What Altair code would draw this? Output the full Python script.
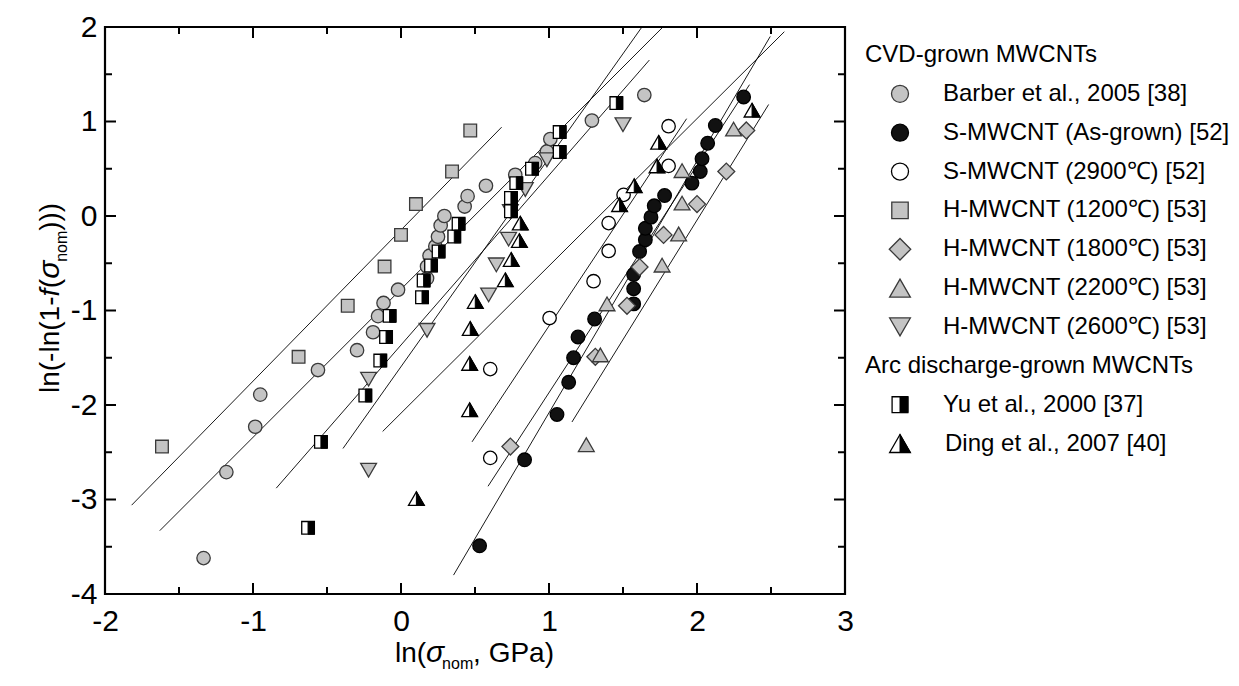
import altair as alt
import pandas as pd

FONT = "Liberation Sans, Arial, Helvetica, sans-serif"

# ------------------------------------------------------------------ data
barber_x = [-1.334, -1.18, -0.985, -0.951, -0.561, -0.297, -0.189, -0.155, -0.118, -0.02,
            0.176, 0.176, 0.193, 0.232, 0.25, 0.268, 0.293, 0.43, 0.45, 0.574,
            0.772, 0.907, 0.986, 1.009, 1.29, 1.644]
barber_y = [-3.62, -2.71, -2.23, -1.89, -1.63, -1.42, -1.23, -1.06, -0.92, -0.78,
            -0.66, -0.535, -0.42, -0.32, -0.22, -0.10, 0.0, 0.10, 0.21, 0.32,
            0.436, 0.56, 0.683, 0.814, 1.01, 1.28]

asgrown_x = [0.531, 0.835, 1.054, 1.133, 1.166, 1.196, 1.308, 1.572, 1.572, 1.572, 1.612,
             1.651, 1.651, 1.689, 1.711, 1.781, 1.966, 2.022, 2.034, 2.072, 2.124, 2.315]
asgrown_y = [-3.49, -2.58, -2.10, -1.76, -1.50, -1.28, -1.09, -0.93, -0.77, -0.62, -0.376,
             -0.252, -0.13, -0.012, 0.108, 0.217, 0.348, 0.471, 0.606, 0.77, 0.958, 1.26]

s2900_x = [0.603, 0.603, 1.004, 1.301, 1.403, 1.403, 1.504, 1.808, 1.808]
s2900_y = [-2.56, -1.62, -1.08, -0.69, -0.37, -0.075, 0.224, 0.53, 0.95]

h1200_x = [-1.615, -0.692, -0.36, -0.111, 0.0, 0.101, 0.345, 0.468]
h1200_y = [-2.44, -1.49, -0.95, -0.535, -0.20, 0.126, 0.471, 0.905]

h1800_x = [0.739, 1.313, 1.527, 1.612, 1.774, 2.0, 2.198, 2.333]
h1800_y = [-2.44, -1.49, -0.95, -0.54, -0.20, 0.126, 0.471, 0.905]

h2200_x = [1.252, 1.347, 1.392, 1.764, 1.876, 1.899, 1.899, 2.247]
h2200_y = [-2.42, -1.47, -0.93, -0.52, -0.19, 0.137, 0.48, 0.92]

h2600_x = [-0.219, -0.219, 0.176, 0.592, 0.644, 0.727, 0.739, 0.84, 0.986, 1.5]
h2600_y = [-2.69, -1.727, -1.21, -0.835, -0.517, -0.245, 0.048, 0.28, 0.595, 0.966]

yu_x = [-0.628, -0.541, -0.241, -0.14, -0.101, -0.077, 0.142, 0.153, 0.203, 0.254,
        0.36, 0.389, 0.743, 0.743, 0.779, 0.885, 1.072, 1.072, 1.455]
yu_y = [-3.30, -2.39, -1.90, -1.53, -1.28, -1.057, -0.86, -0.683, -0.524, -0.376,
        -0.217, -0.083, 0.05, 0.19, 0.348, 0.50, 0.677, 0.888, 1.195]

ding_x = [0.104, 0.464, 0.464, 0.468, 0.502, 0.705, 0.745, 0.80, 0.806, 1.477,
          1.576, 1.73, 1.741, 2.372]
ding_y = [-2.99, -2.05, -1.56, -1.19, -0.905, -0.675, -0.46, -0.26, -0.075, 0.12,
          0.32, 0.53, 0.78, 1.12]

# Weibull fit lines (start / end points)
fit_x1 = [-1.82, -1.63, -0.843, -0.392, -0.124, 0.48, 0.355, 0.588, 1.155]
fit_y1 = [-3.06, -3.33, -2.88, -2.46, -2.28, -2.39, -3.80, -2.86, -2.18]
fit_x2 = [0.68, 1.77, 1.678, 1.628, 2.59, 1.93, 2.495, 2.355, 2.484]
fit_y2 = [0.94, 2.0, 1.65, 2.0, 1.95, 1.03, 1.90, 1.39, 1.18]

x_major = [-2, -1, 0, 1, 2, 3]
x_minor = [-1.5, -0.5, 0.5, 1.5, 2.5]
y_major = [-4, -3, -2, -1, 0, 1, 2]
y_minor = [-3.5, -2.5, -1.5, -0.5, 0.5, 1.5]

legend_labels = [
    "CVD-grown MWCNTs",
    "Barber et al., 2005 [38]",
    "S-MWCNT (As-grown) [52]",
    "S-MWCNT (2900℃) [52]",
    "H-MWCNT (1200℃) [53]",
    "H-MWCNT (1800℃) [53]",
    "H-MWCNT (2200℃) [53]",
    "H-MWCNT (2600℃) [53]",
    "Arc discharge-grown MWCNTs",
    "Yu et al., 2000 [37]",
    "Ding et al., 2007 [40]",
]
legend_keys = [None, "barber", "asgrown", "s2900", "h1200", "h1800", "h2200", "h2600",
               None, "yu", "ding"]

# ------------------------------------------------------------------ layout / style
W, H = 740, 567
PX0, PY0 = 105, 27          # page position of plot origin


def rx(px):
    return px - PX0


def ry(py):
    return py - PY0


GRAY = "#c4c4c4"
EDGE = "#3a3a3a"
SQ_FULL = "M-1,-1L1,-1L1,1L-1,1Z"
SQ_HALF = "M0,-1L1,-1L1,1L0,1Z"
TRI_FULL = "M0,-0.866L1,0.866L-1,0.866Z"
TRI_HALF = "M0,-0.866L1,0.866L0,0.866Z"

STYLE = {
    "barber": ("circle", GRAY, EDGE, 180, 290),
    "asgrown": ("circle", "#111111", "#000000", 185, 290),
    "s2900": ("circle", "#ffffff", "#000000", 180, 290),
    "h1200": ("square", GRAY, EDGE, 160, 270),
    "h1800": ("diamond", GRAY, EDGE, 285, 460),
    "h2200": ("triangle-up", GRAY, EDGE, 250, 430),
    "h2600": ("triangle-down", GRAY, EDGE, 250, 430),
    "yu": ("half-square", None, None, 160, 250),
    "ding": ("half-tri", None, None, 250, 430),
}

SERIES = [
    ("barber", barber_x, barber_y),
    ("asgrown", asgrown_x, asgrown_y),
    ("s2900", s2900_x, s2900_y),
    ("h1200", h1200_x, h1200_y),
    ("h1800", h1800_x, h1800_y),
    ("h2200", h2200_x, h2200_y),
    ("h2600", h2600_x, h2600_y),
    ("yu", yu_x, yu_y),
    ("ding", ding_x, ding_y),
]

xs = alt.Scale(domain=[-2, 3], nice=False, zero=False)
ys = alt.Scale(domain=[-4, 2], nice=False, zero=False)
LABEL_EXPR = "datum.value < 0 ? '-' + abs(datum.value) : '' + datum.value"
xaxis = alt.Axis(values=x_major, title=None, grid=False, ticks=False, tickSize=0, domain=False,
                 labelFont=FONT, labelFontSize=30, labelColor="black", labelPadding=12,
                 labelFlush=False, labelOverlap=False, labelExpr=LABEL_EXPR)
yaxis = alt.Axis(values=y_major, title=None, grid=False, ticks=False, tickSize=0, domain=False,
                 labelFont=FONT, labelFontSize=30, labelColor="black", labelPadding=8,
                 labelFlush=False, labelOverlap=False, labelExpr=LABEL_EXPR)


def X(field):
    return alt.X(field, type="quantitative", scale=xs, axis=xaxis)


def Y(field):
    return alt.Y(field, type="quantitative", scale=ys, axis=yaxis)


def sym_layers(data, enc, key, size):
    shape, fill, stroke, _, _ = STYLE[key]
    base = alt.Chart(data)
    if key in ("yu", "ding"):
        full, half = (SQ_FULL, SQ_HALF) if key == "yu" else (TRI_FULL, TRI_HALF)
        return [
            base.mark_point(shape=full, size=size, filled=True, fill="white", stroke="black",
                            strokeWidth=1.3, opacity=1).encode(**enc),
            base.mark_point(shape=half, size=size, filled=True, fill="black", stroke="black",
                            strokeWidth=1.0, opacity=1).encode(**enc),
        ]
    return [base.mark_point(shape=shape, size=size, filled=True, fill=fill, stroke=stroke,
                            strokeWidth=1.3, opacity=1).encode(**enc)]


def txt(s, x, y, size, style="normal", angle=None, align="left", baseline="alphabetic"):
    kw = dict(align=align, baseline=baseline, font=FONT, fontSize=size, fontStyle=style,
              color="black")
    if angle is not None:
        kw["angle"] = angle
    return alt.Chart(pd.DataFrame({"t": [s]})).mark_text(**kw).encode(
        x=alt.value(x), y=alt.value(y), text="t:N")


layers = []

# fit lines
lines_df = pd.DataFrame({"x1": fit_x1, "y1": fit_y1, "x2": fit_x2, "y2": fit_y2})
layers.append(alt.Chart(lines_df).mark_rule(color="black", strokeWidth=0.9).encode(
    x=X("x1"), y=Y("y1"), x2="x2:Q", y2="y2:Q"))

# data symbols
for key, xv, yv in SERIES:
    df = pd.DataFrame({"x": xv, "y": yv})
    layers += sym_layers(df, dict(x=X("x"), y=Y("y")), key, STYLE[key][3])

# inward ticks on all four sides
TW = 2
for vals, ln in ((x_major, 11), (x_minor, 7)):
    d = pd.DataFrame({"v": vals})
    layers.append(alt.Chart(d).mark_rule(color="black", strokeWidth=TW).encode(
        x=X("v"), y=alt.value(H), y2=alt.value(H - ln)))
    layers.append(alt.Chart(d).mark_rule(color="black", strokeWidth=TW).encode(
        x=X("v"), y=alt.value(0), y2=alt.value(ln)))
for vals, ln in ((y_major, 11), (y_minor, 7)):
    d = pd.DataFrame({"v": vals})
    layers.append(alt.Chart(d).mark_rule(color="black", strokeWidth=TW).encode(
        y=Y("v"), x=alt.value(0), x2=alt.value(ln)))
    layers.append(alt.Chart(d).mark_rule(color="black", strokeWidth=TW).encode(
        y=Y("v"), x=alt.value(W), x2=alt.value(W - ln)))

# x-axis title: ln(σ_nom, GPa)
TF = 28
bx = ry(662)
x0 = rx(395)
layers.append(txt("ln(", x0, bx, TF))
layers.append(txt("σ", x0 + 1.111 * TF, bx, TF + 2, style="italic"))
layers.append(txt("nom", x0 + 1.111 * TF + 16, ry(668.5), 16))
layers.append(txt(", GPa)", x0 + 1.111 * TF + 47, bx, TF))

# y-axis title: ln(-ln(1-f(σ_nom)))
byx = rx(59)
yy = ry(393)
pieces = [("ln(-ln(1-", TF, "normal", 3.444 * TF, 0),
          ("f", TF, "italic", 0.30 * TF, 0),
          ("(", TF, "normal", 0.333 * TF, 0),
          ("σ", TF + 2, "italic", 17, 0),
          ("nom", 16, "normal", 31, 8),
          (")))", TF, "normal", 1.0 * TF, 0)]
for s, fs, st, w, shift in pieces:
    layers.append(txt(s, byx + shift, yy, fs, style=st, angle=270))
    yy -= w

# legend
LEG_Y0, LEG_DY = 55, 38.85
for i, (lab, key) in enumerate(zip(legend_labels, legend_keys)):
    py = ry(LEG_Y0 + i * LEG_DY)
    if key is None:
        layers.append(txt(lab, rx(865), py, 24, baseline="middle"))
    else:
        tx = rx(945) if key == "ding" else rx(943)
        layers.append(txt(lab, tx, py, 24, baseline="middle"))
        d = pd.DataFrame({"k": [key]})
        layers += sym_layers(d, dict(x=alt.value(rx(900)), y=alt.value(py)), key, STYLE[key][4])

chart = alt.layer(*layers).properties(
    width=W, height=H,
    padding={"left": 97, "top": 19, "right": 385, "bottom": 78},
    autosize=alt.AutoSizeParams(type="none"),
).configure_view(stroke="black", strokeWidth=2.2)

chart.save("out.html", embed_options={"renderer": "svg", "actions": False})
